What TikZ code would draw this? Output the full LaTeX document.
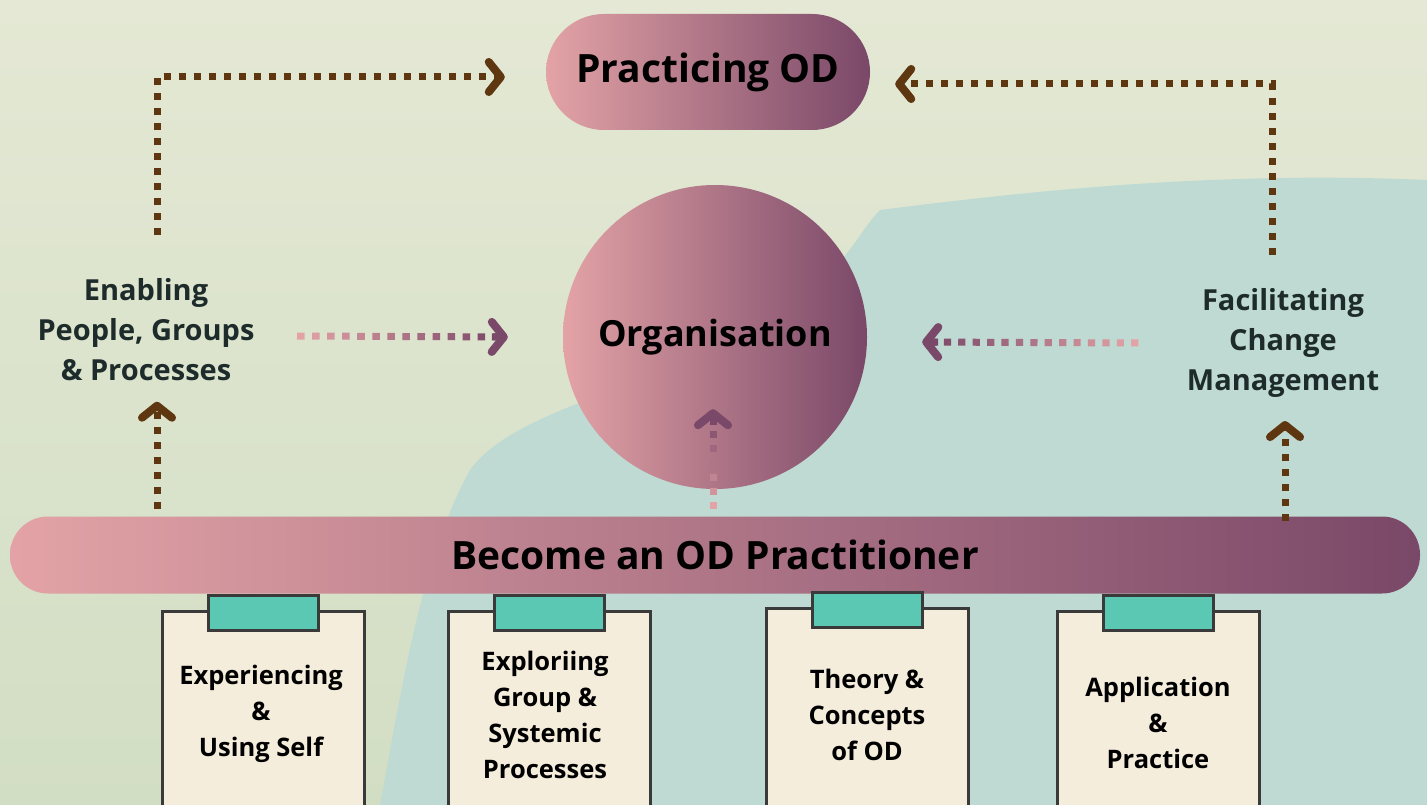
\documentclass[tikz,border=0pt]{standalone}
\usepackage{fontspec}
\setmainfont{Open Sans}
\usetikzlibrary{arrows.meta, positioning, calc}

\definecolor{odpink}{HTML}{E3A3A6}
\definecolor{odplum}{HTML}{7A4868}
\definecolor{odbrown}{HTML}{5E3711}
\definecolor{odink}{HTML}{1D2B2B}
\definecolor{odpaper}{HTML}{E4E8D4}
\definecolor{odmoss}{HTML}{D2DEC4}
\definecolor{odwash}{HTML}{BFDAD2}
\definecolor{odcard}{HTML}{F5EDDC}
\definecolor{odtab}{HTML}{5BC8B3}
\definecolor{odedge}{HTML}{3A3A3A}

% dotted arrow fading from pink to plum
\newcommand{\fadearrow}[3]{%
  \foreach \k in {1,...,#3}{%
    \pgfmathtruncatemacro{\share}{100*(\k-1)/(#3-1)}%
    \draw[fadedot, draw=odplum!\share!odpink] ($(#1)!{(\k-1)/#3}!(#2)$) -- ($(#1)!{(\k-0.5)/#3}!(#2)$);
  }%
  \draw[fadetip] ($(#2)!16pt!(#1)$) -- (#2);
}

\begin{document}
\begin{tikzpicture}[
    x=1pt, y=-1pt,
    pill/.style={left color=odpink, right color=odplum, text=black, font=\fontsize{39}{44}\selectfont\bfseries},
    sidetext/.style={align=center, text=odink, font=\fontsize{29}{40}\selectfont\bfseries},
    card/.style={draw=odedge, line width=3pt, fill=odcard, minimum width=202pt, minimum height=220pt, anchor=north},
    tab/.style={draw=odedge, line width=3pt, fill=odtab, minimum width=110pt, minimum height=35pt},
    cardtext/.style={align=center, text=black, font=\fontsize{25.5}{36}\selectfont\bfseries},
    chevron/.style={-{Straight Barb[length=12pt, width=30pt, line width=0pt 1.15, round]}},
    brownarrow/.style={draw=odbrown, line width=7pt, dash pattern=on 7pt off 8pt, chevron},
    fadedot/.style={line width=7pt},
    fadetip/.style={draw=odplum, line width=7pt, chevron}
]
    \useasboundingbox (0,0) rectangle (1427,805);
    \shade[top color=odpaper, bottom color=odmoss] (0,0) rectangle (1427,805);
    \fill[odwash] (880,210) .. controls (1000,195) and (1200,170) .. (1427,180) -- (1427,805) -- (380,805)
        .. controls (400,700) and (420,560) .. (470,470) .. controls (520,400) and (700,380) .. (800,300)
        .. controls (850,260) and (860,230) .. (880,210) -- cycle;

    \node[pill, rounded corners=58pt, minimum width=324pt, minimum height=116pt] (practicing) at (708,72) {Practicing OD};
    \node[pill, circle, minimum size=304pt, font=\fontsize{36}{40}\selectfont\bfseries] (organisation) at (715,337) {Organisation};
    \node[pill, rounded corners=38pt, minimum width=1410pt, minimum height=77pt] (banner) at (715,555) {Become an OD Practitioner};

    \node[sidetext] (enabling) at (146,330) {Enabling\\People, Groups\\\& Processes};
    \node[sidetext] (facilitating) at (1283,343) {Facilitating\\Change\\Management};

    % clipboards
    \node[card] (expcard) at (263,610) {};
    \node[tab] at ([yshift=-3pt]expcard.north) {};
    \node[cardtext] (experiencing) at (261,714) {Experiencing\\\&\\ Using Self};

    \node[card] (explcard) at (549,610) {};
    \node[tab] at ([yshift=-3pt]explcard.north) {};
    \node[cardtext] (exploring) at (545,715) {Exploriing\\Group \&\\Systemic\\Processes};

    \node[card] (theorycard) at (867,607) {};
    \node[tab] at ([yshift=-3pt]theorycard.north) {};
    \node[cardtext] (theory) at (867,715) {Theory \&\\Concepts\\of OD};

    \node[card] (applcard) at (1158,610) {};
    \node[tab] at ([yshift=-3pt]applcard.north) {};
    \node[cardtext] (application) at (1158,723) {Application\\\&\\Practice};

    % arrows
    \draw[brownarrow] ($(enabling.north)+(11,-40)$) |- ([xshift=-41pt, yshift=-5pt]practicing.west);
    \draw[brownarrow] ($(facilitating.north)+(-11,-30)$) |- ([xshift=25pt, yshift=-12pt]practicing.east);
    \draw[brownarrow] ($(banner.north -| enabling.south)+(11,-7)$) -- ($(enabling.south)+(11,17)$);
    \draw[brownarrow] ($(banner.north -| facilitating.south)+(2,5)$) -- ($(facilitating.south)+(2,20)$);

    \coordinate (enA) at ($(enabling.east)+(39,6)$);
    \coordinate (enB) at ($(organisation.west)+(-55,0)$);
    \fadearrow{enA}{enB}{14}
    \coordinate (faA) at ($(facilitating.west)+(-45,0)$);
    \coordinate (faB) at ($(organisation.east)+(55,5)$);
    \fadearrow{faA}{faB}{15}
    \coordinate (baA) at ($(banner.north)+(-2,-7)$);
    \coordinate (baB) at ($(organisation.south)+(-2,-80)$);
    \fadearrow{baA}{baB}{7}
\end{tikzpicture}
\end{document}
